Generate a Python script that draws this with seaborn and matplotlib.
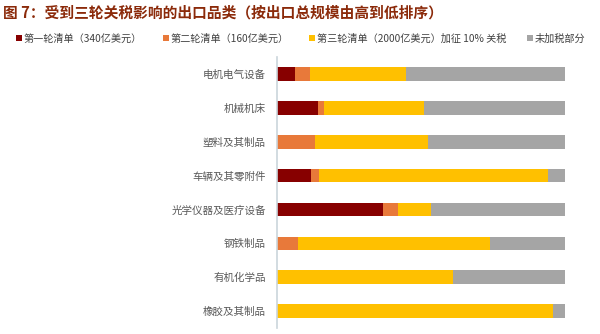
import matplotlib
matplotlib.use("Agg")
import matplotlib.pyplot as plt
from matplotlib.patches import Patch
import numpy as np
import pandas as pd
import seaborn as sns

categories = ["电机电气设备", "机械机床", "塑料及其制品", "车辆及其零附件",
              "光学仪器及医疗设备", "钢铁制品", "有机化学品", "橡胶及其制品"]
round1 = [6.3, 14.3, 0.0, 11.8, 36.8, 0.0, 0.0, 0.0]
round2 = [5.2, 1.9, 13.2, 2.8, 5.2, 7.2, 0.0, 0.0]
round3 = [33.2, 34.9, 39.2, 79.5, 11.5, 66.7, 61.1, 95.9]
untaxed = [55.3, 48.9, 47.6, 5.9, 46.5, 26.1, 38.9, 4.1]

series_names = ["第一轮清单（340亿美元）", "第二轮清单（160亿美元）",
                "第三轮清单（2000亿美元）加征 10% 关税", "未加税部分"]
colors = ["#870000", "#E8793A", "#FFC000", "#A5A5A5"]

sns.set_theme(style="white")
plt.rcParams["font.family"] = ["Noto Sans CJK SC", "DejaVu Sans"]

df = pd.DataFrame({"品类": categories, "r1": round1, "r2": round2,
                   "r3": round3, "un": untaxed})
df["c1"] = df["r1"]
df["c2"] = df["c1"] + df["r2"]
df["c3"] = df["c2"] + df["r3"]
df["c4"] = df["c3"] + df["un"]

fig = plt.figure(figsize=(6.0, 3.34), dpi=100)
ax = fig.add_axes([0.4617, 0.018, 0.48, 0.811])

# stacked bars: draw cumulative totals from the widest down
for col, color in zip(["c4", "c3", "c2", "c1"], colors[::-1]):
    sns.barplot(data=df, y="品类", x=col, orient="h", color=color,
                width=0.4, saturation=1, ax=ax, linewidth=0)

ax.set_xlim(0, 100)
ax.set_ylim(7.5, -0.5)
ax.set_xlabel("")
ax.set_ylabel("")
ax.set_xticks([])
ax.tick_params(axis="y", length=0, pad=8, labelsize=7.6, labelcolor="#595959")
for s in ["top", "right", "bottom"]:
    ax.spines[s].set_visible(False)
ax.spines["left"].set_color("#CBD5DB")
ax.spines["left"].set_linewidth(1.2)

fig.text(0.005, 0.962, "图 7：受到三轮关税影响的出口品类（按出口总规模由高到低排序）",
         fontsize=10.6, fontweight="bold", color="#8B2A0A", va="center", ha="left")

handles = [Patch(facecolor=c, edgecolor="none") for c in colors]
leg = fig.legend(handles, series_names, loc="center left",
                 bbox_to_anchor=(0.018, 0.884), ncol=4, frameon=False,
                 fontsize=7.3, handlelength=0.6, handleheight=0.6,
                 handletextpad=0.2, columnspacing=2.0, borderpad=0)
for t in leg.get_texts():
    t.set_color("#404040")

fig.savefig("out.png", dpi=100)
